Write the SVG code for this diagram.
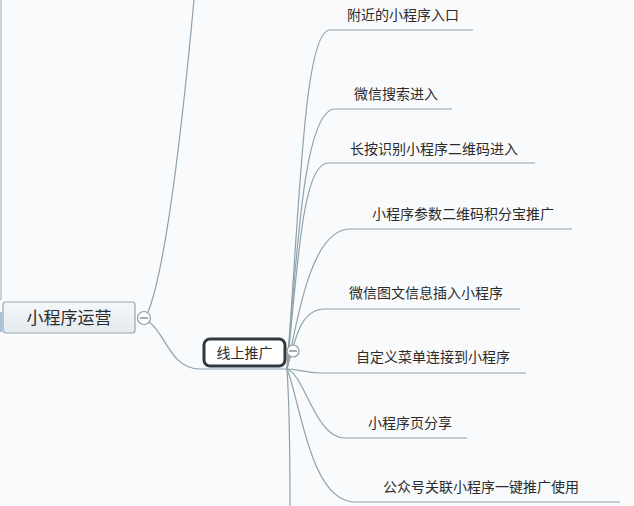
<svg xmlns="http://www.w3.org/2000/svg" width="634" height="506" viewBox="0 0 634 506">
<defs>
<linearGradient id="g1" x1="0" y1="0" x2="0" y2="1">
<stop offset="0" stop-color="#f5f8fa"/>
<stop offset="1" stop-color="#e4eaee"/>
</linearGradient>
</defs>
<style>
.t{font-family:"Noto Sans CJK SC","Liberation Sans",sans-serif;fill:#2b2b2b;}
.c{fill:none;stroke:#8ea1ad;stroke-width:1.2;}
.col{fill:#fdfdfd;stroke:#8e9aa2;stroke-width:1.2;}
</style>
<rect width="634" height="506" fill="#f8fafb"/>
<line x1="1" y1="0" x2="1" y2="300" stroke="#b9c3c9" stroke-width="1.5"/>
<line x1="1" y1="312" x2="1" y2="332" stroke="#9fc3e0" stroke-width="2"/>
<g id="connectors">
<path class="c" d="M148,312 C165,270 180,150 194,0"/>
<path class="c" d="M149,322 C165,332 170,369 200,369 H287"/>
<path class="c" d="M287,369 C300,200 304,30 330,30 H473"/>
<path class="c" d="M287,369 C298,230 306,109 335,109 H452"/>
<path class="c" d="M287,369 C298,260 303,163 328,163 H535"/>
<path class="c" d="M287,369 C300,300 315,229 350,229 H572"/>
<path class="c" d="M287,369 C295,340 300,309 325,309 H520"/>
<path class="c" d="M287,369 C300,369 305,373 320,373 H526"/>
<path class="c" d="M287,369 C305,375 315,438 345,438 H467"/>
<path class="c" d="M287,369 C300,400 310,502 355,502 H620"/>
<path class="c" d="M287,369 C289,400 290,450 290,506"/>
</g>
<g id="root">
<rect x="3" y="302" width="132" height="31" rx="3" fill="url(#g1)" stroke="#9aa6ae" stroke-width="1.2"/>
<text class="t" x="69" y="324" font-size="17" text-anchor="middle">小程序运营</text>
<circle class="col" cx="144" cy="318" r="6.5"/>
<line x1="140" y1="318" x2="148" y2="318" stroke="#6d7880" stroke-width="1.2"/>
</g>
<g id="online">
<rect x="204" y="339" width="81" height="27" rx="6" fill="#ffffff" stroke="#2f393f" stroke-width="3"/>
<text class="t" x="244.5" y="358" font-size="14" text-anchor="middle">线上推广</text>
<circle class="col" cx="293" cy="351" r="6"/>
<line x1="289" y1="351" x2="297" y2="351" stroke="#6d7880" stroke-width="1.2"/>
</g>
<g id="n1"><text class="t" x="347" y="20" font-size="14">附近的小程序入口</text></g>
<g id="n2"><text class="t" x="354" y="99" font-size="14">微信搜索进入</text></g>
<g id="n3"><text class="t" x="350" y="154" font-size="14">长按识别小程序二维码进入</text></g>
<g id="n4"><text class="t" x="372" y="219" font-size="14">小程序参数二维码积分宝推广</text></g>
<g id="n5"><text class="t" x="349" y="298" font-size="14">微信图文信息插入小程序</text></g>
<g id="n6"><text class="t" x="356" y="362" font-size="14">自定义菜单连接到小程序</text></g>
<g id="n7"><text class="t" x="368" y="428" font-size="14">小程序页分享</text></g>
<g id="n8"><text class="t" x="383" y="492" font-size="14">公众号关联小程序一键推广使用</text></g>
</svg>
